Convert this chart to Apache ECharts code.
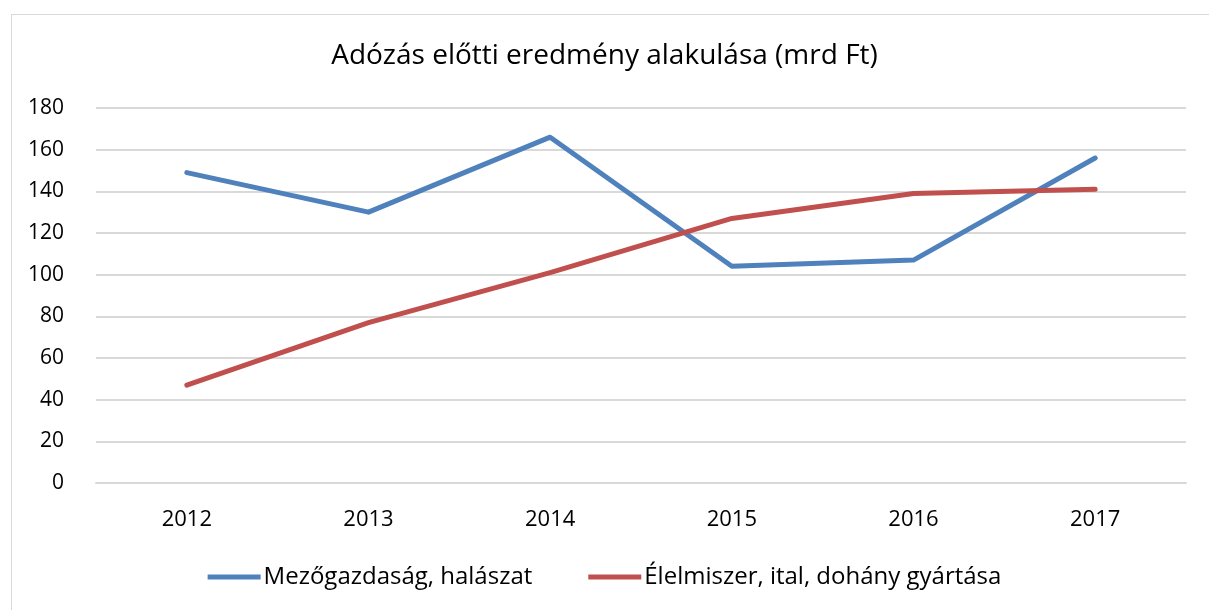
<!DOCTYPE html>
<html><head><meta charset="utf-8">
<script src="https://cdn.jsdelivr.net/npm/echarts@6/dist/echarts.min.js"></script>
<style>
html,body{margin:0;padding:0;background:#fff;}
#frame{position:absolute;left:11px;top:14px;width:1200px;height:600px;border:1px solid #d9d9d9;box-sizing:border-box;}
#c{position:absolute;left:0;top:0;width:1209px;height:610px;}
</style></head>
<body>
<div id="frame"></div>
<div id="c"></div>
<script>
const categories = ['2012','2013','2014','2015','2016','2017'];
const agriculture = [149, 130, 166, 104, 107, 156];
const food = [47, 77, 101, 127, 139, 141];
const seriesNames = ['Mezőgazdaság, halászat', 'Élelmiszer, ital, dohány gyártása'];

const chart = echarts.init(document.getElementById('c'), null, {renderer:'canvas'});
const font = '"Open Sans", "Noto Sans", sans-serif';
chart.setOption({
  animation:false,
  title:{text:'Adózás előtti eredmény alakulása (mrd Ft)', left:'center', top:37,
    textStyle:{fontFamily:font, fontWeight:'normal', fontSize:28, color:'#000'}},
  grid:{left:96, right:23, top:108, bottom:127},
  legend:{bottom:16, left:'center', icon:'rect', itemWidth:53, itemHeight:5, itemGap:56,
    textStyle:{fontFamily:font, fontSize:24, color:'#000', padding:[0,0,0,-2]},
    data:seriesNames},
  xAxis:{type:'category', data:categories, boundaryGap:true,
    axisLine:{show:true, lineStyle:{color:'#d9d9d9', width:2}}, axisTick:{show:false},
    axisLabel:{fontFamily:font, fontSize:22, color:'#000', margin:26}},
  yAxis:{type:'value', min:0, max:180, interval:20,
    axisLine:{show:false}, axisTick:{show:false},
    splitLine:{lineStyle:{color:'#d9d9d9', width:2}},
    axisLabel:{fontFamily:font, fontSize:21, color:'#000', margin:32}},
  series:[
    {name:seriesNames[0], type:'line', data:agriculture, showSymbol:false, symbol:'none',
      lineStyle:{color:'#4F81BD', width:5, cap:'round', join:'round'}, itemStyle:{color:'#4F81BD'}},
    {name:seriesNames[1], type:'line', data:food, showSymbol:false, symbol:'none',
      lineStyle:{color:'#C0504D', width:5, cap:'round', join:'round'}, itemStyle:{color:'#C0504D'}}
  ]
});
</script>
</body></html>
